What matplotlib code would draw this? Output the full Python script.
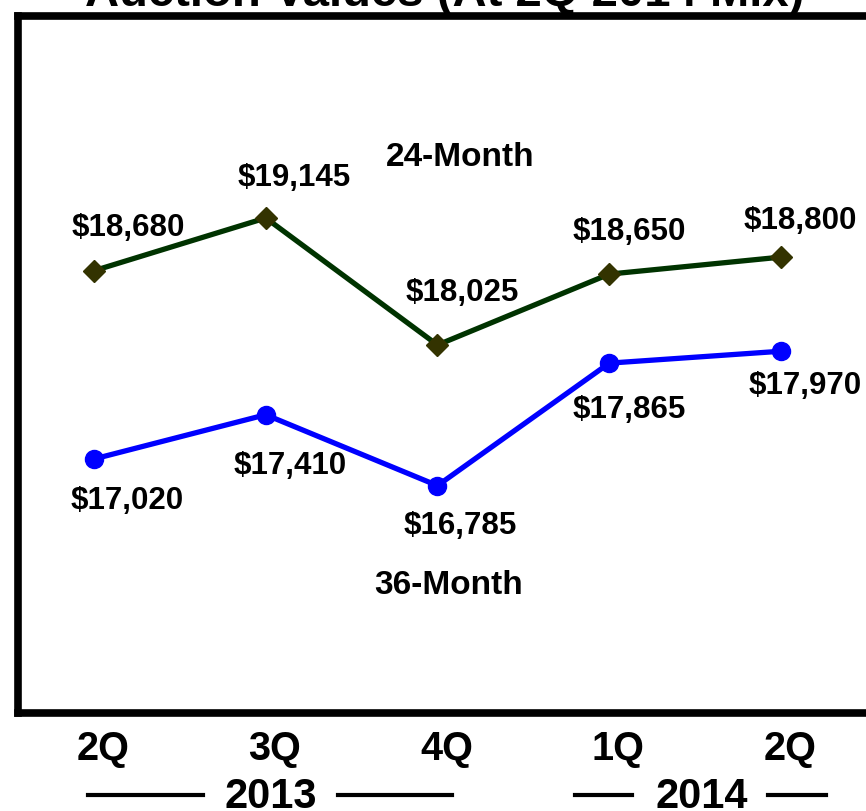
import matplotlib
matplotlib.use("Agg")
from matplotlib import pyplot as plt
from matplotlib.lines import Line2D
import matplotlib.transforms as mtransforms

plt.rcParams['font.family'] = ['Liberation Sans', 'DejaVu Sans']
plt.rcParams['font.weight'] = 'bold'

quarters = ["2Q", "3Q", "4Q", "1Q", "2Q"]
years = ["2013", "2014"]
m24 = [18680, 19145, 18025, 18650, 18800]
m36 = [17020, 17410, 16785, 17865, 17970]

# label offsets in pixels from each point
off24 = [(34, 43), (28, 40), (25, 52), (20, 42), (19, 36)]
off36 = [(33, -42), (24, -51), (23, -40), (20, -47), (24, -35)]

W, H = 866, 811
fig = plt.figure(figsize=(W / 100, H / 100), dpi=100)
# axes frame runs past the right edge of the picture
ax = fig.add_axes([18 / W, 1 - 713 / H, 900 / W, 697 / H])

x = list(range(len(quarters)))
ax.plot(x, m24, color="#003300", lw=3.8, marker="D", ms=11,
        mfc="#333300", mec="#333300", zorder=3)
ax.plot(x, m36, color="#0000ff", lw=3.8, marker="o", ms=13,
        mfc="#0000ff", mec="#0000ff", zorder=3)

ax.set_xlim(-0.4425, 4.798)
ax.set_ylim(14780, 20926)

for xi, v, o in zip(x, m24, off24):
    ax.annotate("${:,}".format(v), (xi, v), xytext=o, textcoords="offset pixels",
                ha="center", va="center", fontsize=22.5, fontweight="bold")
for xi, v, o in zip(x, m36, off36):
    ax.annotate("${:,}".format(v), (xi, v), xytext=o, textcoords="offset pixels",
                ha="center", va="center", fontsize=22.5, fontweight="bold")

ax.text(2.131, 19674, "24-Month", ha="center", va="center", fontsize=24, fontweight="bold")
ax.text(2.067, 15908, "36-Month", ha="center", va="center", fontsize=24, fontweight="bold")

ax.set_xticks(x)
ax.set_xticklabels(quarters, fontsize=28.5, fontweight="bold")
ax.tick_params(axis="x", length=0, pad=12)
# quarter labels sit a little right of the points
shift = mtransforms.ScaledTranslation(9 / 100, 0, fig.dpi_scale_trans)
for lab in ax.get_xticklabels():
    lab.set_transform(lab.get_transform() + shift)
ax.set_yticks([])
for s in ax.spines.values():
    s.set_linewidth(5.5)
    s.set_color("black")

# year labels with side rules
fig.text(271 / W, 1 - 797 / H, years[0], ha="center", va="center", fontsize=30, fontweight="bold")
fig.text(702 / W, 1 - 797 / H, years[1], ha="center", va="center", fontsize=30, fontweight="bold")
for x0, x1 in [(88, 203), (338, 452), (575, 632), (768, 826)]:
    fig.add_artist(Line2D([x0 / W, x1 / W], [1 - 795 / H, 1 - 795 / H],
                          color="black", lw=3, transform=fig.transFigure))

fig.text(445 / W, 1 - 6 / H, "Auction Values (At 2Q 2014 Mix)", ha="center",
         va="baseline", fontsize=34, fontweight="bold")

fig.savefig("out.png", dpi=100)
